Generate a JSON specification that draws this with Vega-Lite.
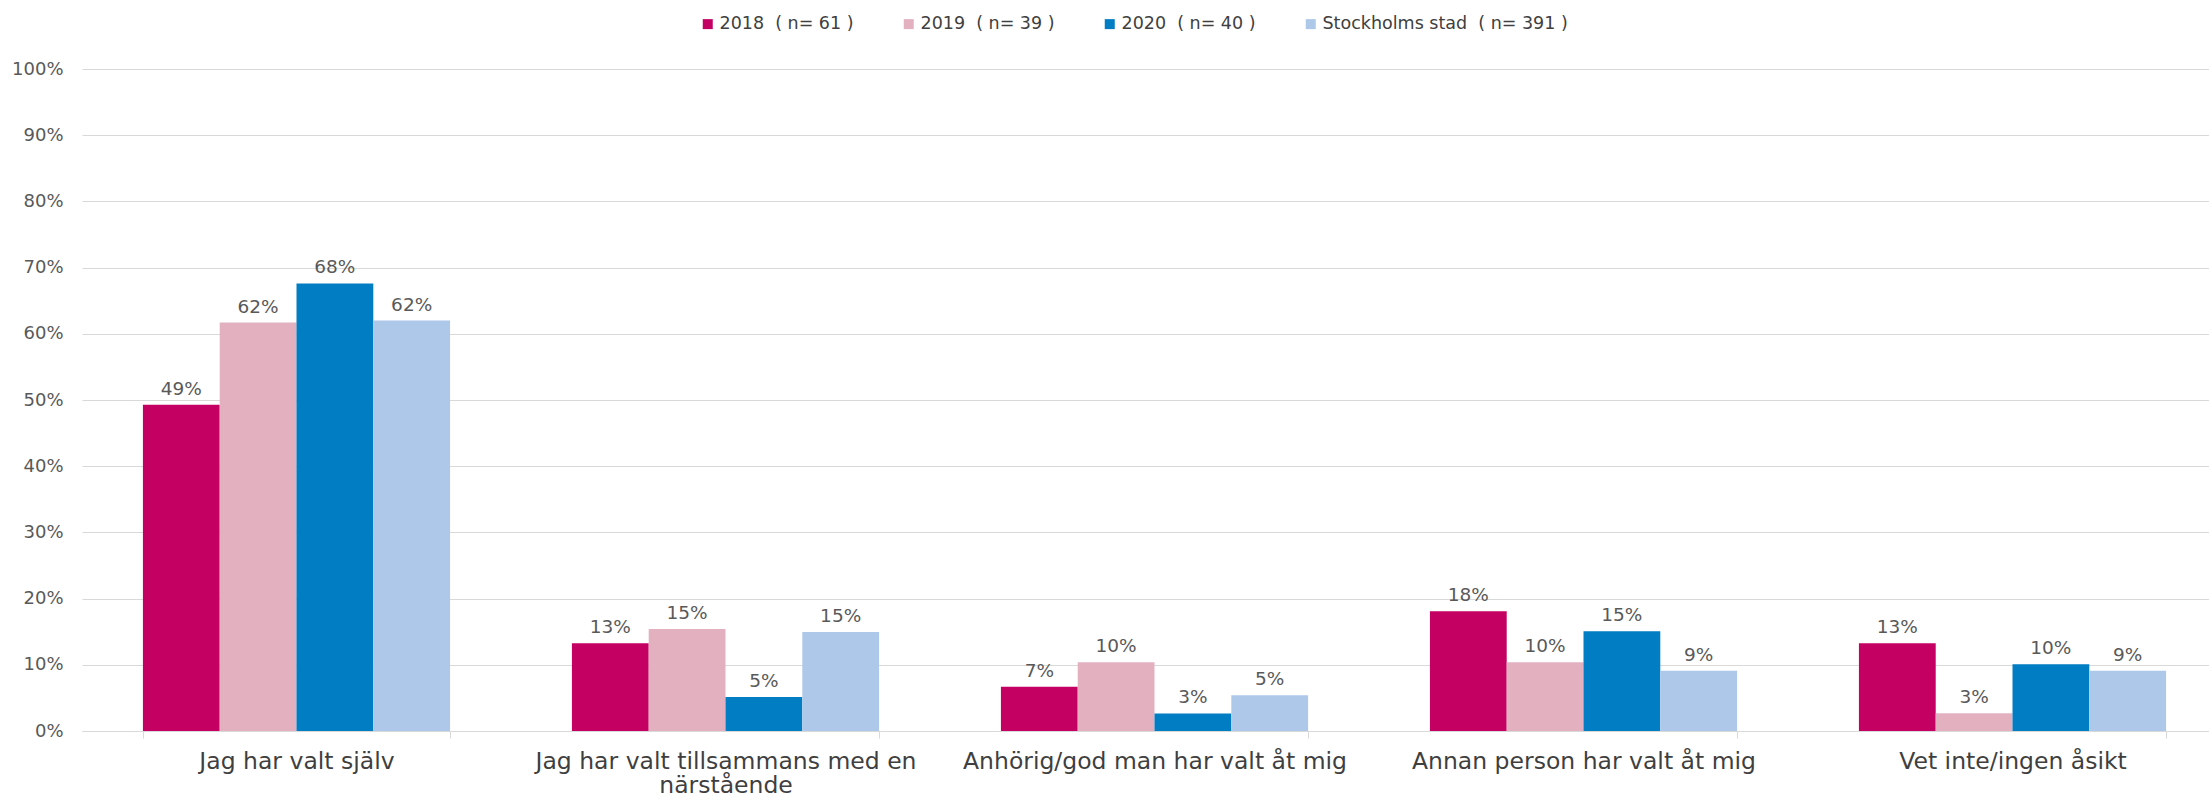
{
  "$schema": "https://vega.github.io/schema/vega-lite/v6.json",
  "width": 2127,
  "height": 662,
  "autosize": {"type": "none"},
  "padding": {"left": 82, "top": 69, "right": 0, "bottom": 68},
  "background": "white",
  "config": {"view": {"stroke": null}, "font": "DejaVu Sans"},
  "data": {
    "values": [
      {"kategori": "Jag har valt själv", "serie": "2018 \u00a0( n= 61 )", "andel": 0.493},
      {"kategori": "Jag har valt själv", "serie": "2019 \u00a0( n= 39 )", "andel": 0.617},
      {"kategori": "Jag har valt själv", "serie": "2020 \u00a0( n= 40 )", "andel": 0.676},
      {"kategori": "Jag har valt själv", "serie": "Stockholms stad \u00a0( n= 391 )", "andel": 0.620},
      {"kategori": "Jag har valt tillsammans med en närstående", "serie": "2018 \u00a0( n= 61 )", "andel": 0.1325},
      {"kategori": "Jag har valt tillsammans med en närstående", "serie": "2019 \u00a0( n= 39 )", "andel": 0.154},
      {"kategori": "Jag har valt tillsammans med en närstående", "serie": "2020 \u00a0( n= 40 )", "andel": 0.0515},
      {"kategori": "Jag har valt tillsammans med en närstående", "serie": "Stockholms stad \u00a0( n= 391 )", "andel": 0.1495},
      {"kategori": "Anhörig/god man har valt åt mig", "serie": "2018 \u00a0( n= 61 )", "andel": 0.067},
      {"kategori": "Anhörig/god man har valt åt mig", "serie": "2019 \u00a0( n= 39 )", "andel": 0.104},
      {"kategori": "Anhörig/god man har valt åt mig", "serie": "2020 \u00a0( n= 40 )", "andel": 0.0265},
      {"kategori": "Anhörig/god man har valt åt mig", "serie": "Stockholms stad \u00a0( n= 391 )", "andel": 0.054},
      {"kategori": "Annan person har valt åt mig", "serie": "2018 \u00a0( n= 61 )", "andel": 0.181},
      {"kategori": "Annan person har valt åt mig", "serie": "2019 \u00a0( n= 39 )", "andel": 0.104},
      {"kategori": "Annan person har valt åt mig", "serie": "2020 \u00a0( n= 40 )", "andel": 0.1505},
      {"kategori": "Annan person har valt åt mig", "serie": "Stockholms stad \u00a0( n= 391 )", "andel": 0.091},
      {"kategori": "Vet inte/ingen åsikt", "serie": "2018 \u00a0( n= 61 )", "andel": 0.1325},
      {"kategori": "Vet inte/ingen åsikt", "serie": "2019 \u00a0( n= 39 )", "andel": 0.027},
      {"kategori": "Vet inte/ingen åsikt", "serie": "2020 \u00a0( n= 40 )", "andel": 0.101},
      {"kategori": "Vet inte/ingen åsikt", "serie": "Stockholms stad \u00a0( n= 391 )", "andel": 0.091}
    ]
  },
  "encoding": {
    "x": {
      "field": "kategori",
      "type": "nominal",
      "sort": ["Jag har valt själv", "Jag har valt tillsammans med en närstående", "Anhörig/god man har valt åt mig", "Annan person har valt åt mig", "Vet inte/ingen åsikt"],
      "scale": {"range": [0, 2145], "paddingInner": 0.284, "paddingOuter": 0.142},
      "axis": {
        "title": null,
        "labelAngle": 0,
        "domainColor": "#d9d9d9",
        "tickColor": "#d9d9d9",
        "tickSize": 7,
        "tickBand": "extent",
        "labelPadding": 11,
        "labelFont": "DejaVu Sans",
        "labelFontSize": 23.5,
        "labelColor": "#3f3f3f",
        "labelLineHeight": 24,
        "labelBaseline": "top",
        "labelLimit": 0,
        "labelExpr": "datum.label == 'Jag har valt tillsammans med en närstående' ? ['Jag har valt tillsammans med en', 'närstående'] : datum.label"
      }
    },
    "xOffset": {
      "field": "serie",
      "type": "nominal",
      "sort": ["2018 \u00a0( n= 61 )", "2019 \u00a0( n= 39 )", "2020 \u00a0( n= 40 )", "Stockholms stad \u00a0( n= 391 )"],
      "scale": {"paddingInner": 0, "paddingOuter": 0}
    },
    "y": {
      "field": "andel",
      "type": "quantitative",
      "scale": {"domain": [0, 1]},
      "axis": {
        "title": null,
        "values": [0, 0.1, 0.2, 0.3, 0.4, 0.5, 0.6, 0.7, 0.8, 0.9, 1],
        "format": ".0%",
        "domain": false,
        "ticks": false,
        "labelPadding": 19,
        "labelFont": "DejaVu Sans",
        "labelFontSize": 18,
        "labelColor": "#595959",
        "gridColor": "#d9d9d9",
        "gridWidth": 1
      }
    }
  },
  "layer": [
    {
      "mark": {"type": "bar"},
      "encoding": {
        "color": {
          "field": "serie",
          "type": "nominal",
          "sort": ["2018 \u00a0( n= 61 )", "2019 \u00a0( n= 39 )", "2020 \u00a0( n= 40 )", "Stockholms stad \u00a0( n= 391 )"],
          "scale": {"range": ["#C40062", "#E3B0C0", "#007DC3", "#AEC8EA"]},
          "legend": {
            "title": null,
            "orient": "none",
            "direction": "horizontal",
            "columns": 4,
            "legendX": 617,
            "legendY": -54,
            "padding": 0,
            "symbolType": "square",
            "symbolSize": 100,
            "symbolStrokeWidth": 0,
            "labelFont": "DejaVu Sans",
            "labelFontSize": 17.5,
            "labelColor": "#404040",
            "labelOffset": 3,
            "labelLimit": 0,
            "columnPadding": 46
          }
        }
      }
    },
    {
      "mark": {"type": "text", "baseline": "alphabetic", "dy": -10, "fontSize": 18.5, "color": "#595959", "font": "DejaVu Sans"},
      "encoding": {
        "text": {"field": "andel", "type": "quantitative", "format": ".0%"}
      }
    }
  ]
}
